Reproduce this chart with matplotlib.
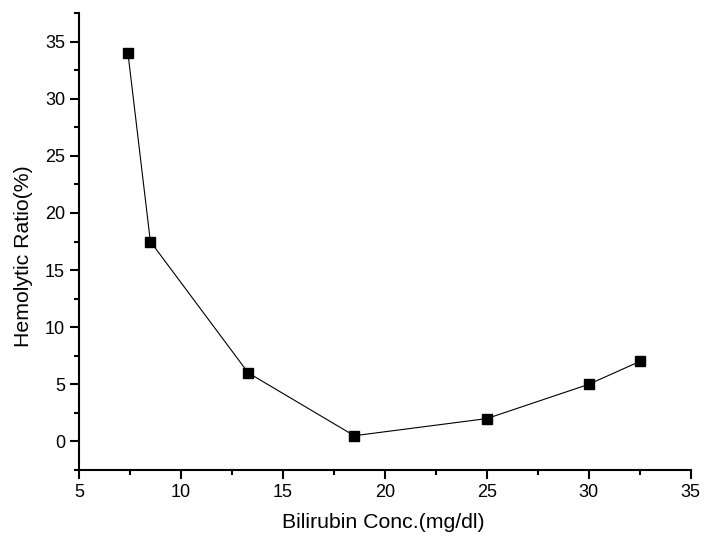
import matplotlib
matplotlib.use('Agg')
import matplotlib.pyplot as plt
from matplotlib.ticker import MultipleLocator

plt.rcParams['font.family'] = ['Liberation Sans', 'DejaVu Sans']

bilirubin = [7.4, 8.5, 13.3, 18.5, 25, 30, 32.5]
hemolytic = [34, 17.5, 6, 0.5, 2, 5, 7]

fig = plt.figure(figsize=(7.04, 5.38), dpi=100)
ax = fig.add_axes([79/704, 1 - 470/538, (690.7 - 79)/704, (470 - 13)/538])

ax.plot(bilirubin, hemolytic, color='black', linewidth=0.8,
        marker='s', markersize=6.5, markerfacecolor='black', markeredgecolor='black')

ax.set_xlim(5, 35)
ax.set_ylim(-2.5, 37.5)
ax.xaxis.set_major_locator(MultipleLocator(5))
ax.xaxis.set_minor_locator(MultipleLocator(2.5))
ax.yaxis.set_major_locator(MultipleLocator(5))
ax.yaxis.set_minor_locator(MultipleLocator(2.5))

for side in ['top', 'right']:
    ax.spines[side].set_visible(False)
for side in ['left', 'bottom']:
    ax.spines[side].set_linewidth(1.5)

ax.tick_params(which='major', direction='out', length=6.5, width=1.5, labelsize=13)
ax.tick_params(which='minor', direction='out', length=3.3, width=1.5)

ax.set_xlabel('Bilirubin Conc.(mg/dl)', fontsize=15.3)
ax.set_ylabel('Hemolytic Ratio(%)', fontsize=15.3)
ax.xaxis.set_label_coords(0.4977, -0.094)
ax.yaxis.set_label_coords(-0.075, 0.468)

fig.savefig('out.png', dpi=100)
